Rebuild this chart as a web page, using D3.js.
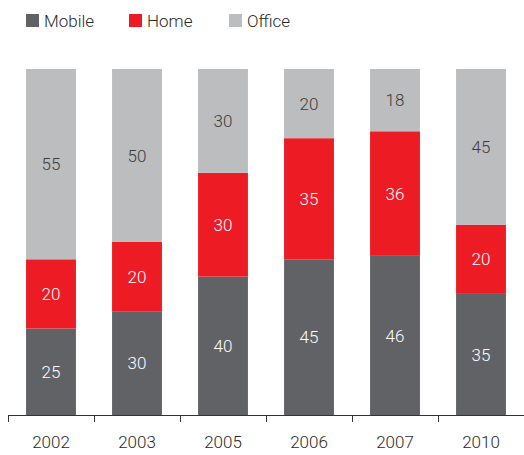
<!DOCTYPE html>
<html>
<head>
<meta charset="utf-8">
<script src="https://cdn.jsdelivr.net/npm/d3@7"></script>
<style>
  body { margin: 0; background: #fff; }
  svg text { font-family: "Helvetica Neue", Roboto, "Liberation Sans", sans-serif; font-weight: 300; }
</style>
</head>
<body>
<svg id="chart" width="524" height="455"></svg>
<script>
// data
const years = ['2002', '2003', '2005', '2006', '2007', '2010'];
const seriesNames = ['Mobile', 'Home', 'Office'];
const mobile = [25, 30, 40, 45, 46, 35];
const home = [20, 20, 30, 35, 36, 20];
const office = [55, 50, 30, 20, 18, 45];

const colors = ['#616266', '#ed1c24', '#bcbdbf'];
const labelColors = ['#ffffff', '#ffffff', '#3c3c3c'];

const rows = years.map((y, i) => ({year: y, Mobile: mobile[i], Home: home[i], Office: office[i]}));

const svg = d3.select('#chart');

const x = d3.scaleBand()
  .domain(years)
  .range([8, 524])
  .paddingInner(0.42)
  .paddingOuter(0.21);

const y = d3.scaleLinear()
  .domain([0, 100])
  .range([415, 69]);

const stacked = d3.stack().keys(seriesNames)(rows);

//bars
const layers = svg.append('g')
  .selectAll('g')
  .data(stacked)
  .join('g')
  .attr('fill', (d, i) => colors[i]);

layers.selectAll('rect')
  .data(d => d)
  .join('rect')
  .attr('x', d => x(d.data.year))
  .attr('width', x.bandwidth())
  .attr('y', d => y(d[1]))
  .attr('height', d => y(d[0]) - y(d[1]));

//value labels
layers.each(function(layer, i) {
  d3.select(this).selectAll('text')
    .data(layer)
    .join('text')
    .attr('x', d => x(d.data.year) + x.bandwidth() / 2)
    .attr('y', d => (y(d[0]) + y(d[1])) / 2)
    .attr('dy', '0.36em')
    .attr('text-anchor', 'middle')
    .attr('font-size', 17)
    .attr('fill', labelColors[i])
    .text(d => d[1] - d[0]);
});

//axis with ticks at band boundaries
const axisG = svg.append('g');
axisG.append('line')
  .attr('x1', 8).attr('x2', 524)
  .attr('y1', 415.5).attr('y2', 415.5)
  .attr('stroke', '#333').attr('stroke-width', 1);

const gap = (x.step() - x.bandwidth()) / 2;
axisG.selectAll('.tick')
  .data(years)
  .join('line')
  .attr('class', 'tick')
  .attr('x1', d => Math.round(x(d) - gap) + 0.5)
  .attr('x2', d => Math.round(x(d) - gap) + 0.5)
  .attr('y1', 415).attr('y2', 422)
  .attr('stroke', '#333');

axisG.selectAll('.lbl')
  .data(years)
  .join('text')
  .attr('class', 'lbl')
  .attr('x', d => x(d) + x.bandwidth() / 2)
  .attr('y', 448)
  .attr('text-anchor', 'middle')
  .attr('font-size', 17)
  .attr('fill', '#2a2a2a')
  .text(d => d);

//legend
const legendX = [26, 129, 229];
const legend = svg.append('g')
  .selectAll('g')
  .data(seriesNames)
  .join('g')
  .attr('transform', (d, i) => `translate(${legendX[i]},14)`);

legend.append('rect')
  .attr('width', 13).attr('height', 13)
  .attr('fill', (d, i) => colors[i]);

legend.append('text')
  .attr('x', 18)
  .attr('y', 13)
  .attr('font-size', 17)
  .attr('fill', '#2a2a2a')
  .text(d => d);
</script>
</body>
</html>
